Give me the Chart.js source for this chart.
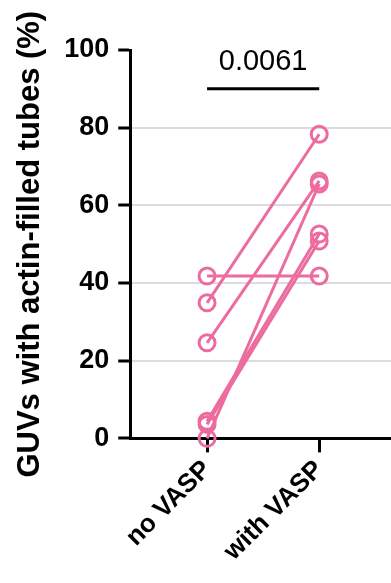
<!DOCTYPE html>
<html>
<head>
<meta charset="utf-8">
<script src="https://cdn.jsdelivr.net/npm/chart.js@4"></script>
<style>
  html, body { margin: 0; padding: 0; background: #fff; }
  #wrap { width: 391px; height: 583px; }
</style>
</head>
<body>
<div id="wrap"><canvas id="chart" width="391" height="583"></canvas></div>
<script>
// paired values, one pair per GUV sample
const categories = ['no VASP', 'with VASP'];
const noVasp = [41.8, 34.9, 24.6, 0, 4.4, 3.6];
const withVasp = [41.8, 78.3, 66.3, 65.5, 52.6, 50.8];
const yTicks = [0, 20, 40, 60, 80, 100];
const pValue = '0.0061';
const bracketY = 90;

const pink = 'rgb(236,108,160)';
const font = '"Liberation Sans", Arial, sans-serif';

const pairSets = noVasp.map((v, i) => ({
    data: [{ x: 0, y: v }, { x: 1, y: withVasp[i] }],
    borderColor: pink,
    borderWidth: 3,
    pointRadius: 8,
    pointBorderWidth: 3,
    pointBorderColor: pink,
    pointBackgroundColor: 'rgba(0,0,0,0)',
    showLine: true,
    clip: false,
}));

const bracketSet = {
    data: [{ x: 0, y: bracketY }, { x: 1, y: bracketY }],
    borderColor: '#000',
    borderWidth: 3,
    pointRadius: 0,
    showLine: true,
    clip: false,
};

// p value text above the bracket
const pLabel = {
    id: 'pLabel',
    afterDatasetsDraw(chart) {
        const { ctx, scales } = chart;
        const x = (scales.x.getPixelForValue(0) + scales.x.getPixelForValue(1)) / 2;
        const y = scales.y.getPixelForValue(bracketY);
        ctx.save();
        ctx.fillStyle = '#000';
        ctx.font = '29px ' + font;
        ctx.textAlign = 'center';
        ctx.textBaseline = 'alphabetic';
        ctx.fillText(pValue, x, y - 19);
        ctx.restore();
    }
};

new Chart(document.getElementById('chart'), {
    type: 'scatter',
    data: { datasets: [...pairSets, bracketSet] },
    options: {
        responsive: false,
        animation: false,
        layout: { autoPadding: false, padding: { top: 50, right: 0, bottom: 14, left: 12 } },
        plugins: { legend: { display: false }, tooltip: { enabled: false } },
        scales: {
            x: {
                type: 'linear',
                min: -0.685,
                max: 1.64,
                afterBuildTicks: (axis) => { axis.ticks = [{ value: 0 }, { value: 1 }]; },
                ticks: {
                    callback: (v) => categories[v],
                    minRotation: 45,
                    maxRotation: 45,
                    color: '#000',
                    font: { family: font, size: 26, weight: 'bold' },
                    padding: 2,
                },
                grid: { drawOnChartArea: false, drawTicks: true, tickLength: 14, tickWidth: 3, tickColor: '#000' },
                border: { color: '#000', width: 3 },
            },
            y: {
                min: 0,
                max: 100,
                afterBuildTicks: (axis) => { axis.ticks = yTicks.map(v => ({ value: v })); },
                ticks: {
                    color: '#000',
                    font: { family: font, size: 27, weight: 'bold' },
                    padding: 9,
                },
                grid: {
                    color: (c) => (c.tick && (c.tick.value === 0 || c.tick.value === 100)) ? 'rgba(0,0,0,0)' : '#dcdcdc',
                    lineWidth: 2,
                    tickLength: 12,
                    tickWidth: 3,
                    tickColor: '#000',
                },
                border: { color: '#000', width: 3 },
                title: {
                    display: true,
                    text: 'GUVs with actin-filled tubes (%)',
                    color: '#000',
                    font: { family: font, size: 31, weight: 'bold' },
                    padding: { top: 0, bottom: 6 },
                },
            },
        },
    },
    plugins: [pLabel],
});
</script>
</body>
</html>
